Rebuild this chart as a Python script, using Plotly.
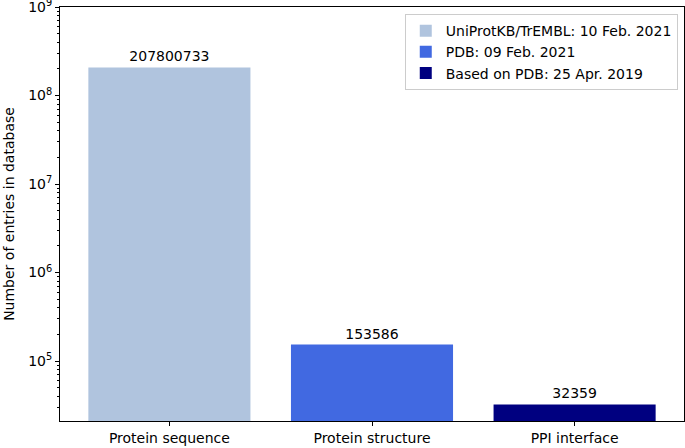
import plotly.graph_objects as go
import math

# data
categories = ['Protein sequence', 'Protein structure', 'PPI interface']
entries = [207800733, 153586, 32359]
sources = ['UniProtKB/TrEMBL: 10 Feb. 2021', 'PDB: 09 Feb. 2021', 'Based on PDB: 25 Apr. 2019']
colors = ['#B0C4DE', '#4169E1', '#000080']

major_vals = [1e5, 1e6, 1e7, 1e8, 1e9]
major_text = ['10<sup>5</sup>', '10<sup>6</sup>', '10<sup>7</sup>', '10<sup>8</sup>', '10<sup>9</sup>']
minor_vals = [m * 10 ** e for e in range(4, 9) for m in range(2, 10)]

fig = go.Figure()
for i in range(len(categories)):
    fig.add_trace(go.Bar(
        x=[i], y=[entries[i]], name=sources[i], width=0.8,
        marker=dict(color=colors[i], line=dict(width=0)),
        text=[str(entries[i])], textposition='outside',
        textfont=dict(size=14, color='black'), cliponaxis=False,
    ))

fig.update_layout(
    width=685, height=448,
    margin=dict(l=60, r=1, t=7, b=27),
    barmode='overlay',
    plot_bgcolor='white', paper_bgcolor='white',
    font=dict(family='DejaVu Sans', size=14, color='black'),
    legend=dict(x=0.99, y=0.983, xanchor='right', yanchor='top',
                bordercolor='#cccccc', borderwidth=1, bgcolor='rgba(255,255,255,0.8)',
                font=dict(size=14), itemwidth=30, tracegroupgap=0),
    xaxis=dict(range=[-0.54, 2.54], tickvals=[0, 1, 2], ticktext=categories,
               showline=True, linecolor='black', linewidth=1, mirror=True, automargin=False,
               ticks='outside', ticklen=4, tickcolor='black', showgrid=False, zeroline=False),
    yaxis=dict(type='log', range=[math.log10(2.1e4), 9.001],
               tickvals=major_vals, ticktext=major_text, automargin=False,
               ticklabeloverflow='allow',
               showline=True, linecolor='black', linewidth=1, mirror=True,
               ticks='outside', ticklen=4, tickcolor='black', showgrid=False, zeroline=False,
               minor=dict(tickvals=minor_vals, ticks='outside', ticklen=2, tickcolor='black', showgrid=False),
               title=dict(text='Number of entries in database', standoff=10, font=dict(size=14))),
)

fig.write_html("out.html", config={'displayModeBar': False},
               post_script="document.body.style.margin='0';")
